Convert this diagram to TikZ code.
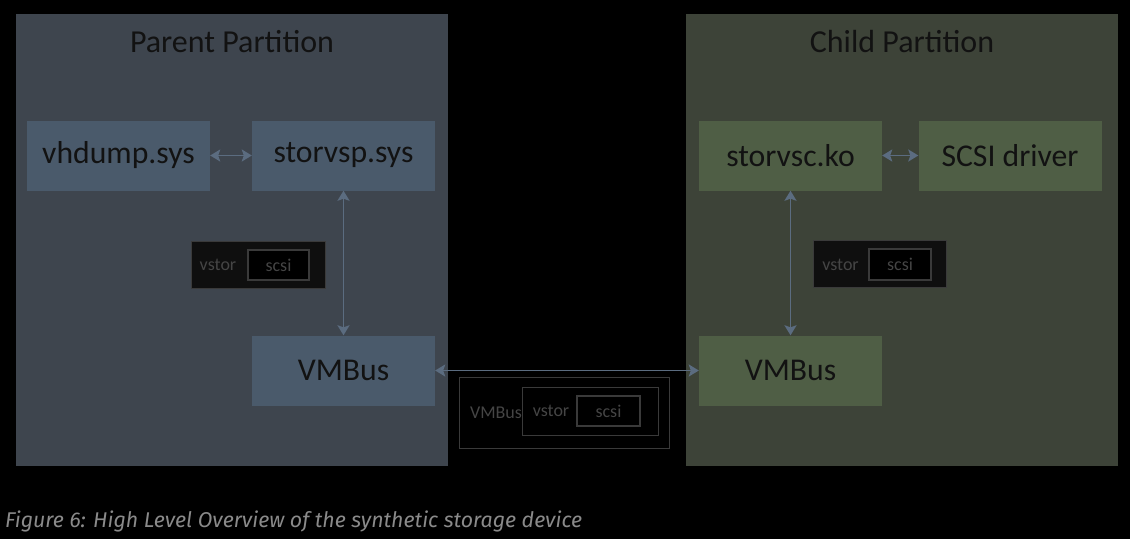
\documentclass[tikz,border=0pt]{standalone}
\usepackage{fontspec}
\setmainfont{Carlito}
\newfontfamily\capfont{Fira Sans}
\usetikzlibrary{arrows.meta}
\definecolor{pfill}{HTML}{3E454E}
\definecolor{pbox}{HTML}{4A5A6B}
\definecolor{cfill}{HTML}{3D4338}
\definecolor{cbox}{HTML}{4F5E45}
\definecolor{arr}{HTML}{5B6C80}
\definecolor{dtext}{HTML}{121212}
\definecolor{gline}{HTML}{3A3A3A}
\definecolor{gtext}{HTML}{454545}
\definecolor{captext}{HTML}{8A8A8A}
\begin{document}
\begin{tikzpicture}[x=1pt,y=-1pt,
  pmod/.style={fill=pbox,draw=none,minimum width=183pt,minimum height=70pt,inner sep=0pt,text=dtext,font=\fontsize{31.7}{32}\selectfont},
  cmod/.style={fill=cbox,draw=none,minimum width=183pt,minimum height=70pt,inner sep=0pt,text=dtext,font=\fontsize{31.7}{32}\selectfont},
  ttl/.style={text=dtext,font=\fontsize{32}{32}\selectfont,inner sep=0pt},
  pkt/.style={fill=black!94,draw=gline,line width=0.8pt,inner sep=0pt},
  pktin/.style={fill=black,draw=gline,line width=1.2pt,inner sep=0pt},
  small/.style={text=gtext,font=\fontsize{18}{18}\selectfont,inner sep=0pt},
  link/.style={draw=arr,line width=1.8pt,{Stealth[length=10pt,width=12pt,inset=2pt]}-{Stealth[length=10pt,width=12pt,inset=2pt]}}
]
\useasboundingbox (0,0) rectangle (1130,539);
\fill[black] (0,0) rectangle (1130,539);
% partitions
\fill[pfill] (16,14) rectangle (448,466);
\fill[cfill] (686,14) rectangle (1118,466);
\node[ttl] (ptitle) at (232,42) {Parent Partition};
\node[ttl] (ctitle) at (902,42) {Child Partition};
% parent modules
\node[pmod] (vhd) at (118.5,155.5) {vhdump.sys};
\node[pmod] (vsp) at (343.5,155.5) {storvsp.sys};
\node[pmod] (pvmb) at (343.5,370.5) {VMBus};
% child modules
\node[cmod] (vsc) at (790.5,155.5) {storvsc.ko};
\node[cmod] (scsid) at (1010,155.5) {SCSI driver};
\node[cmod] (cvmb) at (790.5,370.5) {VMBus};
% parent packet
\node[pkt,minimum width=134pt,minimum height=47pt] (ppkt) at (258,264.5) {};
\node[small] (ppktl) at (218,265) {vstor};
\node[pktin,minimum width=61pt,minimum height=30pt] (ppkts) at (278.5,265) {};
\node[small] (ppktsl) at (278.5,265) {scsi};
% child packet
\node[pkt,minimum width=133pt,minimum height=47pt] (cpkt) at (879.5,263.5) {};
\node[small] (cpktl) at (840.5,264.5) {vstor};
\node[pktin,minimum width=62pt,minimum height=31pt] (cpkts) at (900,264.5) {};
\node[small] (cpktsl) at (900,264.5) {scsi};
% bus packet
\node[pkt,fill=black,minimum width=210pt,minimum height=71pt] (bpkt) at (564,412.5) {};
\node[small] (bpktl) at (496,413) {VMBus};
\node[pkt,fill=black,minimum width=136pt,minimum height=48pt] (bvst) at (590,411) {};
\node[small] (bvstl) at (551,411) {vstor};
\node[pktin,minimum width=63pt,minimum height=30pt] (bscsi) at (608.5,411) {};
\node[small] (bscsil) at (608.5,411) {scsi};
% links
\draw[link] (vhd.east) -- (vsp.west);
\draw[link] (vsc.east) -- (scsid.west);
\draw[link] (vsp.south) -- (pvmb.north);
\draw[link] (vsc.south) -- (cvmb.north);
\draw[link] (pvmb.east) -- (cvmb.west);
% caption
\node[anchor=base west,inner sep=0pt,text=captext] (cap) at (5,527)
  {\resizebox{577pt}{!}{\capfont\itshape\fontsize{20}{20}\selectfont Figure 6: High Level Overview of the synthetic storage device}};
\end{tikzpicture}
\end{document}
